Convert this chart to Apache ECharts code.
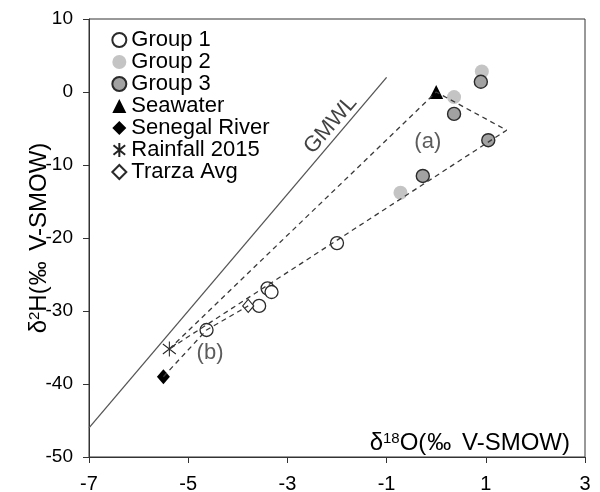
<!DOCTYPE html>
<html>
<head>
<meta charset="utf-8">
<script src="https://cdn.jsdelivr.net/npm/echarts@6/dist/echarts.min.js"></script>
<style>
  html, body { margin: 0; padding: 0; background: #fff; }
  #chart { width: 600px; height: 492px; }
</style>
</head>
<body>
<div id="chart"></div>
<script>
// values (δ18O, δ2H in ‰ V-SMOW)
const group1X = [-2.0, -3.40, -3.32, -3.57, -4.63];
const group1Y = [-20.7, -26.9, -27.4, -29.3, -32.6];
const group2X = [0.36, 0.92, -0.72];
const group2Y = [-0.7, 2.8, -13.8];
const group3X = [0.90, 0.36, 1.05, -0.27];
const group3Y = [1.4, -3.0, -6.6, -11.5];
const seawater = [0.0, 0.0];
const senegalRiver = [-5.5, -39.0];
const rainfall2015 = [-5.38, -35.2];
const trarzaAvg = [-3.79, -29.3];

// dashed mixing envelopes (a) and (b)
const envAX = [-5.38, 0.0, 1.42, -5.38];
const envAY = [-35.2, 0.0, -5.23, -35.2];
const envBX = [-5.5, -4.63, -3.79];
const envBY = [-39.0, -32.6, -29.3];

// global meteoric water line end points
const gmwlX = [-7, -1];
const gmwlY = [-46, 2];

// annotations
const noteText = ['(a)', '(b)'];
const noteX = [-0.17, -4.56];
const noteY = [-6.8, -35.8];
const gmwlLabelPos = [-2.13, -4.5];

const xTicks = [-7, -5, -3, -1, 1, 3];
const yTicks = [-50, -40, -30, -20, -10, 0, 10];

const legendNames = ['Group 1', 'Group 2', 'Group 3', 'Seawater', 'Senegal River', 'Rainfall 2015', 'Trarza Avg'];

const FONT = '"Liberation Sans", Arial, sans-serif';
const pts = (xs, ys) => xs.map((x, i) => [x, ys[i]]);

const chart = echarts.init(document.getElementById('chart'), null, { renderer: 'canvas' });

const dashed = {
  color: '#3a3a3a',
  width: 1.3,
  type: [5, 4]
};

// rich styles shared by both axis titles
const titleRich = (key) => ({
  t: { fontFamily: FONT, fontSize: 24, [key]: '#000' },
  p: { fontFamily: FONT, fontSize: 24, [key]: '#000', padding: [0, 4, 0, 1] },
  s: { fontFamily: FONT, fontSize: 15, [key]: '#000', padding: [0, 0, 8, 0] }
});

const option = {
  animation: false,
  backgroundColor: '#fff',
  grid: {
    left: 89,
    right: 15,
    top: 19,
    bottom: 35,
    outerBoundsMode: 'none',
    show: true,
    borderColor: '#333',
    borderWidth: 1
  },
  legend: {
    data: legendNames,
    orient: 'vertical',
    left: 106,
    top: 24,
    itemWidth: 14,
    itemHeight: 14,
    itemGap: 0,
    selectedMode: false,
    textStyle: {
      fontFamily: FONT,
      fontSize: 22,
      color: '#000',
      lineHeight: 22
    }
  },
  xAxis: {
    type: 'value',
    min: xTicks[0],
    max: xTicks[xTicks.length - 1],
    splitLine: { show: false },
    axisLine: { onZero: false, lineStyle: { color: '#333', width: 1 } },
    axisTick: {
      show: true,
      length: 6,
      customValues: xTicks,
      lineStyle: { color: '#333' }
    },
    axisLabel: {
      customValues: xTicks,
      margin: 17,
      fontFamily: FONT,
      fontSize: 20,
      color: '#000'
    }
  },
  yAxis: {
    type: 'value',
    min: yTicks[0],
    max: yTicks[yTicks.length - 1],
    interval: 10,
    splitLine: { show: false },
    axisLine: { show: true, onZero: false, lineStyle: { color: '#333', width: 1 } },
    axisTick: { show: true, length: 6, lineStyle: { color: '#333' } },
    axisLabel: {
      margin: 16,
      fontFamily: FONT,
      fontSize: 19,
      color: '#000'
    },
    name: '{t|δ}{s|2}{t|H(}{p|‰}{t| V-SMOW)}',
    nameLocation: 'middle',
    nameRotate: 90,
    nameGap: 38,
    nameMoveOverlap: false,
    nameTextStyle: { rich: titleRich('color') }
  },
  graphic: [{
    type: 'text',
    right: 30,
    top: 431,
    style: {
      text: '{t|δ}{s|18}{t|O(}{p|‰}{t| V-SMOW)}',
      rich: titleRich('fill')
    }
  }],
  series: [
    {
      name: 'GMWL',
      type: 'line',
      data: pts(gmwlX, gmwlY),
      symbol: 'none',
      silent: true,
      lineStyle: { color: '#555', width: 1.3 }
    },
    {
      name: 'gmwl-label',
      type: 'scatter',
      data: [{ value: gmwlLabelPos, name: 'GMWL' }],
      symbolSize: 0,
      silent: true,
      label: {
        show: true,
        position: 'inside',
        formatter: '{b}',
        rotate: 49,
        fontFamily: FONT,
        fontSize: 22,
        color: '#111'
      }
    },
    {
      name: 'notes',
      type: 'scatter',
      data: noteText.map((t, i) => ({ value: [noteX[i], noteY[i]], name: t })),
      symbolSize: 0,
      silent: true,
      label: {
        show: true,
        position: 'inside',
        formatter: '{b}',
        fontFamily: FONT,
        fontSize: 22,
        color: '#333'
      }
    },
    {
      name: 'Group 2',
      type: 'scatter',
      data: pts(group2X, group2Y),
      symbol: 'circle',
      symbolSize: 14,
      itemStyle: { color: '#c4c4c4', opacity: 1 }
    },
    {
      name: 'Group 3',
      type: 'scatter',
      data: pts(group3X, group3Y),
      symbol: 'circle',
      symbolSize: 13,
      itemStyle: { color: '#a2a2a2', borderColor: '#2a2a2a', borderWidth: 1.4, opacity: 1 }
    },
    {
      name: 'Group 1',
      type: 'scatter',
      data: pts(group1X, group1Y),
      symbol: 'circle',
      symbolSize: 13,
      itemStyle: { color: '#fff', borderColor: '#2a2a2a', borderWidth: 1.3, opacity: 1 }
    },
    {
      name: 'envelope a',
      type: 'line',
      data: pts(envAX, envAY),
      symbol: 'none',
      silent: true,
      lineStyle: dashed
    },
    {
      name: 'envelope b',
      type: 'line',
      data: pts(envBX, envBY),
      symbol: 'none',
      silent: true,
      lineStyle: dashed
    },
    {
      name: 'Seawater',
      type: 'scatter',
      data: [seawater],
      symbol: 'triangle',
      symbolSize: [14, 14],
      itemStyle: { color: '#000', opacity: 1 }
    },
    {
      name: 'Senegal River',
      type: 'scatter',
      data: [senegalRiver],
      symbol: 'diamond',
      symbolSize: [13, 15],
      itemStyle: { color: '#000', opacity: 1 }
    },
    {
      name: 'Rainfall 2015',
      type: 'scatter',
      data: [rainfall2015],
      symbol: 'path://M5,0L5,12M0,2L10,10M0,10L10,2',
      symbolSize: [13, 15],
      itemStyle: { color: 'none', borderColor: '#222', borderWidth: 1.1, opacity: 1 }
    },
    {
      name: 'Trarza Avg',
      type: 'scatter',
      data: [trarzaAvg],
      symbol: 'diamond',
      symbolSize: [11, 13],
      itemStyle: { color: '#fff', borderColor: '#2a2a2a', borderWidth: 1.2, opacity: 1 }
    }
  ]
};

chart.setOption(option);
</script>
</body>
</html>
